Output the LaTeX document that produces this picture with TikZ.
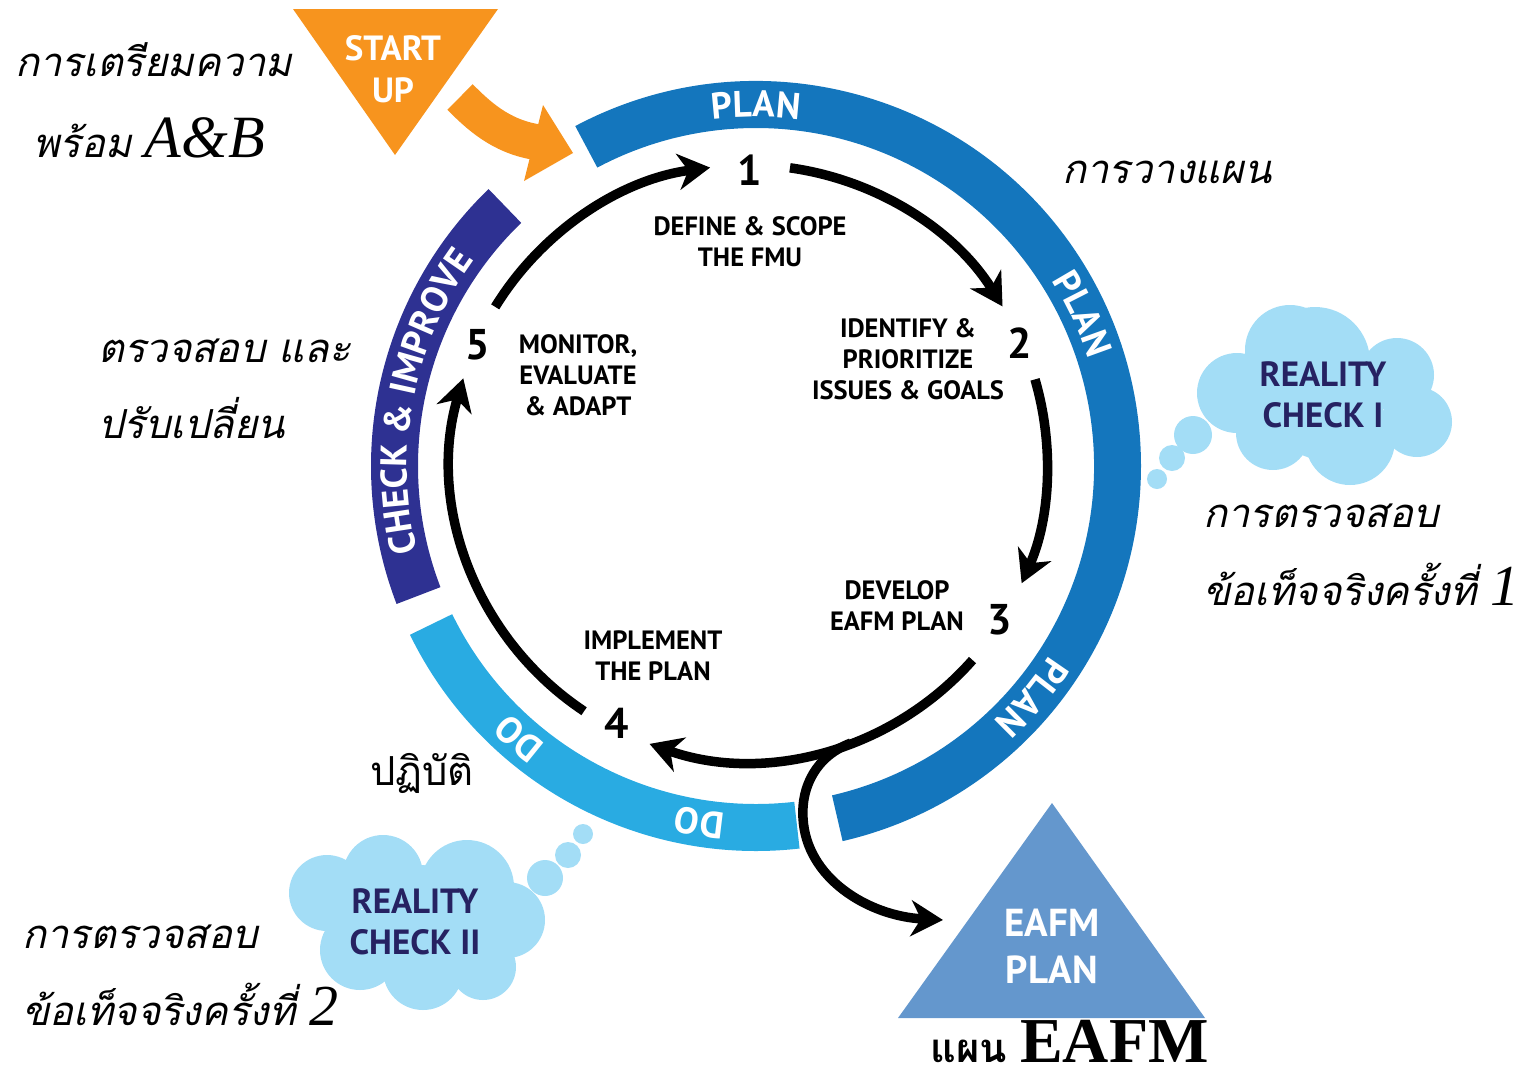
\documentclass[tikz,border=0pt]{standalone}
\usepackage{fontspec}
\setmainfont{Liberation Serif}
\newfontfamily\lab{PT Sans}
\newfontfamily\thai[Script=Thai]{Loma}
\newfontfamily\thaisl[Script=Thai,FakeSlant=0.22]{Loma}
\newfontfamily\tms{Liberation Serif}
\usetikzlibrary{arrows.meta,decorations.text}
\definecolor{planblue}{HTML}{1476BD}
\definecolor{doblue}{HTML}{29ABE2}
\definecolor{checkblue}{HTML}{2E3192}
\definecolor{startorange}{HTML}{F7941E}
\definecolor{cloudblue}{HTML}{A3DDF6}
\definecolor{navy}{HTML}{262262}
\definecolor{eafmblue}{HTML}{6497CD}
\newcommand{\bandfont}{\fontsize{37}{37}\selectfont\lab\bfseries\color{white}}
\begin{document}
\begin{tikzpicture}[x=1pt,y=1pt,
  cyc/.style={line width=9.5pt,-{Stealth[length=32pt,width=36pt,inset=10pt]}},
  steptxt/.style={font=\fontsize{26.5}{31}\selectfont\lab\bfseries,align=center,inner sep=0pt},
  num/.style={font=\fontsize{43}{43}\selectfont\lab\bfseries,inner sep=0pt},
  cloudtxt/.style={font=\fontsize{35}{41}\selectfont\lab\bfseries,text=navy,align=center,inner sep=0pt},
  whitetxt/.style={text=white,align=center,inner sep=0pt},
  thaitxt/.style={font=\fontsize{40}{40}\selectfont\thaisl,anchor=base west,inner sep=0pt},
  thaiup/.style={font=\fontsize{40}{40}\selectfont\thai,anchor=base west,inner sep=0pt}
]
\useasboundingbox (0,0) rectangle (1524,-1069);

% ---------- ring bands ----------
\begin{scope}[shift={(756,-466)}]
  \fill[planblue] (118:385) arc[start angle=118,end angle=-77,radius=385]
    -- (-77:338) arc[start angle=-77,end angle=118,radius=338] -- cycle;
  \fill[doblue] (-83.5:385) arc[start angle=-83.5,end angle=-154,radius=385]
    -- (-154:338) arc[start angle=-154,end angle=-83.5,radius=338] -- cycle;
  \fill[checkblue] (201:385) arc[start angle=201,end angle=134,radius=385]
    -- (134:338) arc[start angle=134,end angle=201,radius=338] -- cycle;
  % band labels
  \path[decorate,decoration={text along path,text align=center,text={|\bandfont|PLAN}}]
    (115:349) arc[start angle=115,end angle=65,radius=349];
  \path[decorate,decoration={text along path,text align=center,text={|\bandfont|PLAN}}]
    (50:349) arc[start angle=50,end angle=0,radius=349];
  \path[decorate,decoration={text along path,text align=center,text={|\bandfont|PLAN}}]
    (-15:349) arc[start angle=-15,end angle=-65,radius=349];
  \path[decorate,decoration={text along path,text align=center,text={|\bandfont|DO}}]
    (-106:349) arc[start angle=-106,end angle=-156,radius=349];
  \path[decorate,decoration={text along path,text align=center,text={|\bandfont|DO}}]
    (-74:349) arc[start angle=-74,end angle=-124,radius=349];
  \path[decorate,decoration={text along path,text align=center,text={|\bandfont|CHECK {\&} IMPROVE}}]
    (201:349) arc[start angle=201,end angle=137,radius=349];
\end{scope}

% ---------- START UP ----------
\fill[startorange] (293,-9) -- (498,-9) -- (395,-155) -- cycle;
\node[whitetxt,font=\fontsize{35}{42}\selectfont\lab\bfseries] (startup) at (393,-69) {START\\UP};
\draw[startorange,line width=36pt] (460,-97) .. controls (478,-115) and (500,-136) .. (536,-142);
\fill[startorange] (543,-105) -- (573,-153) -- (524,-181) -- cycle;

% ---------- step labels ----------
\node[num] (n1) at (750,-170) {1};
\node[num] (n2) at (1020,-343) {2};
\node[num] (n3) at (1000,-620) {3};
\node[num] (n4) at (617,-723) {4};
\node[num] (n5) at (478,-345) {5};
\node[steptxt] (s1) at (750,-242) {DEFINE \& SCOPE\\THE FMU};
\node[steptxt] (s2) at (908,-359) {IDENTIFY \&\\PRIORITIZE\\ISSUES \& GOALS};
\node[steptxt] (s3) at (897,-606) {DEVELOP\\EAFM PLAN};
\node[steptxt] (s4) at (653,-656) {IMPLEMENT\\THE PLAN};
\node[steptxt] (s5) at (578,-375) {MONITOR,\\EVALUATE\\\& ADAPT};

% ---------- cycle arrows ----------
\begin{scope}[shift={(749,-463)}]
  \coordinate (a1s) at (148.4:298);
  \coordinate (a2s) at (82.1:298);
  \coordinate (a3s) at (16.3:298);
  \coordinate (a4s) at (-41.4:298);
  \coordinate (a5s) at (236.4:298);
  \coordinate (bs) at (-70:298);
  \draw[cyc] (a1s) arc[start angle=148.4,end angle=97.5,radius=298];
  \draw[cyc] (a2s) arc[start angle=82.1,end angle=31.7,radius=298];
  \draw[cyc] (a3s) arc[start angle=16.3,end angle=-23.8,radius=298];
  \draw[cyc] (a4s) arc[start angle=-41.4,end angle=-109.5,radius=298];
  \draw[cyc] (a5s) arc[start angle=236.4,end angle=163.5,radius=298];
\end{scope}
\coordinate (eafmin) at (943,-920);
\draw[cyc] (bs) .. controls (816,-756) and (801,-787) .. (803,-818)
  .. controls (806,-878) and (868,-916) .. (eafmin);

% ---------- EAFM PLAN ----------
\fill[eafmblue] (1052,-803) -- (1205,-1018) -- (898,-1018) -- cycle;
\node[whitetxt,font=\fontsize{39}{47}\selectfont\lab\bfseries] (eafm) at (1052,-946) {EAFM\\PLAN};

% ---------- clouds ----------
\begin{scope}[cloudblue]
  \fill (1315,-362) circle[radius=55];
  \fill (1290,-350) circle[radius=45];
  \fill (1397,-375) circle[radius=37];
  \fill (1417,-422) circle[radius=35];
  \fill (1350,-440) circle[radius=45];
  \fill (1273,-433) circle[radius=37];
  \fill (1237,-393) circle[radius=40];
  \fill (1325,-405) circle[radius=55];
  \fill (1193,-435) circle[radius=19];
  \fill (1172,-458) circle[radius=13];
  \fill (1157,-479) circle[radius=10];
  \fill (383,-875) circle[radius=40];
  \fill (467,-887) circle[radius=47];
  \fill (507,-920) circle[radius=38];
  \fill (483,-967) circle[radius=33];
  \fill (423,-970) circle[radius=40];
  \fill (360,-950) circle[radius=40];
  \fill (327,-893) circle[radius=38];
  \fill (420,-920) circle[radius=55];
  \fill (545,-878) circle[radius=18];
  \fill (568,-855) circle[radius=13];
  \fill (583,-834) circle[radius=10];
\end{scope}
\node[cloudtxt] (rc1) at (1323,-395) {REALITY\\CHECK I};
\node[cloudtxt] (rc2) at (415,-922) {REALITY\\CHECK II};

% ---------- Thai annotations ----------
\node[thaitxt] (t1) at (15,-76) {การเตรียมความ};
\node[thaitxt] (t2) at (33,-157) {พร้อม {\fontsize{60}{60}\selectfont\tms\itshape A\&B}};
\node[thaitxt] (t3) at (1062,-183) {การวางแผน};
\node[thaitxt] (t4) at (98,-362) {ตรวจสอบ และ};
\node[thaitxt] (t5) at (98,-438) {ปรับเปลี่ยน};
\node[thaitxt] (t6) at (1203,-527) {การตรวจสอบ};
\node[thaitxt] (t7) at (1203,-605) {ข้อเท็จจริงครั้งที่ {\fontsize{58}{58}\selectfont\tms\itshape 1}};
\node[thaiup] (t8) at (370,-785) {ปฏิบัติ};
\node[thaitxt] (t9) at (22,-948) {การตรวจสอบ};
\node[thaitxt] (t10) at (22,-1025) {ข้อเท็จจริงครั้งที่ {\fontsize{58}{58}\selectfont\tms\itshape 2}};
\node[thaiup,font=\fontsize{40}{40}\selectfont\thai\bfseries,text depth=0pt] (t11) at (930,-1062) {แผน {\fontsize{64}{64}\selectfont\tms\bfseries EAFM}};
\end{tikzpicture}
\end{document}
